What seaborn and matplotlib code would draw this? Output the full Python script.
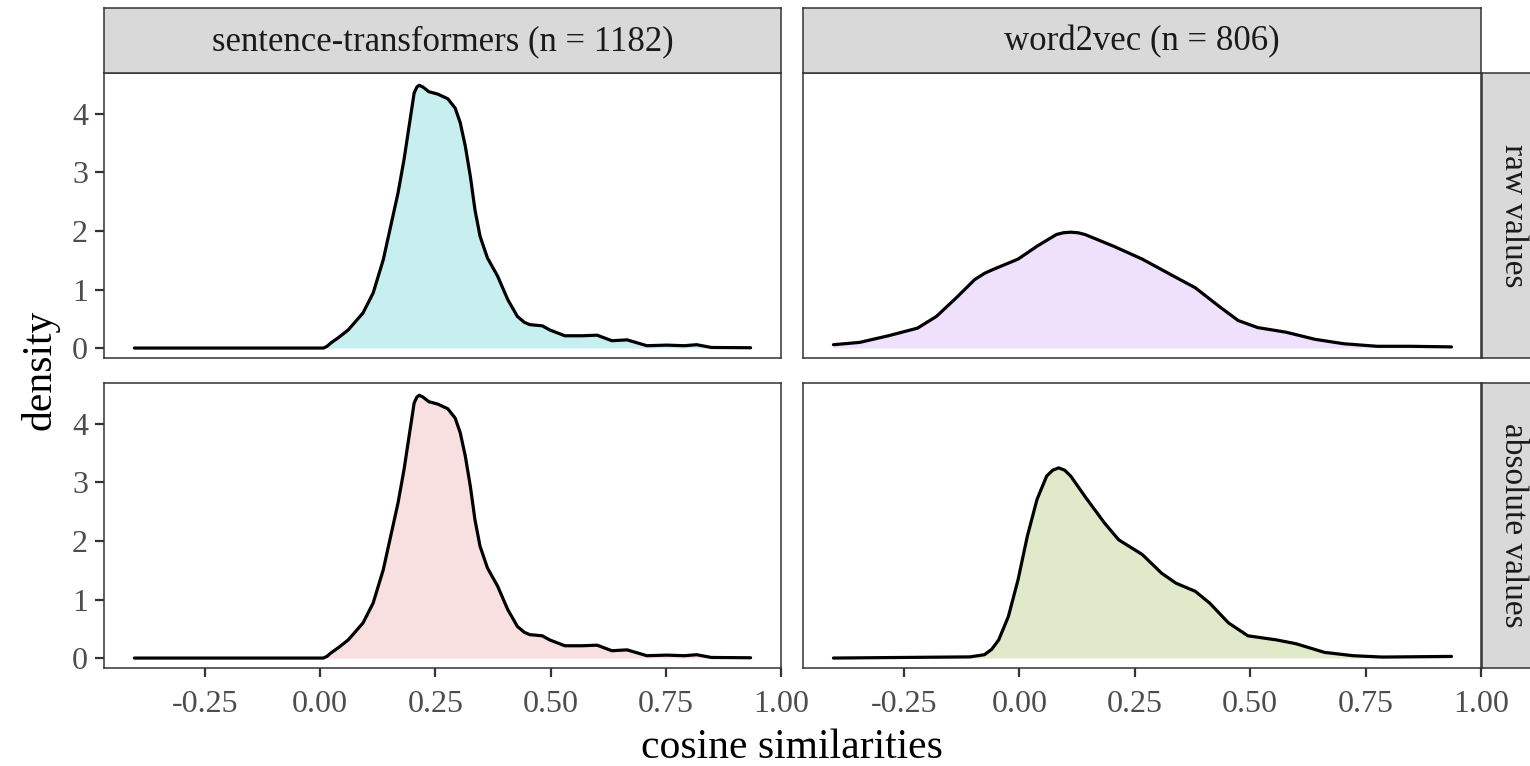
import numpy as np
import pandas as pd
import matplotlib
matplotlib.use('Agg')
import matplotlib.pyplot as plt
import seaborn as sns

# facet labels
models = ['sentence-transformers', 'word2vec']
model_n = [1182, 806]
value_types = ['raw values', 'absolute values']

# density curves (x = cosine similarity)
st_x = [-0.403, 0.007, 0.015, 0.023, 0.040, 0.061, 0.093, 0.115, 0.137, 0.153, 0.169, 0.182,
        0.193, 0.204, 0.210, 0.215, 0.223, 0.236, 0.255, 0.277, 0.293, 0.304, 0.315,
        0.326, 0.336, 0.347, 0.363, 0.385, 0.407, 0.428, 0.443, 0.455, 0.482, 0.498,
        0.531, 0.568, 0.601, 0.633, 0.666, 0.709, 0.752, 0.790, 0.817, 0.849, 0.934]
st_density = [0.0, 0.0, 0.03, 0.085, 0.18, 0.31, 0.60, 0.94, 1.51, 2.08, 2.65, 3.22,
              3.79, 4.36, 4.46, 4.49, 4.46, 4.38, 4.34, 4.26, 4.10, 3.85, 3.45,
              2.93, 2.36, 1.91, 1.54, 1.23, 0.83, 0.54, 0.44, 0.40, 0.38, 0.31,
              0.21, 0.21, 0.22, 0.125, 0.14, 0.04, 0.05, 0.04, 0.057, 0.01, 0.005]

w2v_raw_x = [-0.403, -0.346, -0.284, -0.221, -0.180, -0.138, -0.097, -0.075, -0.055, -0.003,
             0.038, 0.080, 0.095, 0.111, 0.127, 0.142, 0.204, 0.266, 0.329, 0.381, 0.433, 0.474,
             0.516, 0.578, 0.640, 0.702, 0.775, 0.848, 0.936]
w2v_raw_density = [0.057, 0.097, 0.21, 0.34, 0.54, 0.85, 1.17, 1.28, 1.35, 1.52,
                   1.74, 1.94, 1.97, 1.98, 1.97, 1.94, 1.74, 1.52, 1.25, 1.03, 0.71, 0.47,
                   0.35, 0.27, 0.15, 0.074, 0.03, 0.03, 0.02]

w2v_abs_x = [-0.403, -0.107, -0.076, -0.060, -0.045, -0.024, -0.003, 0.017, 0.038, 0.059,
             0.072, 0.085, 0.098, 0.111, 0.142, 0.184, 0.215, 0.266, 0.308, 0.339, 0.381, 0.412,
             0.453, 0.495, 0.557, 0.599, 0.661, 0.723, 0.786, 0.868, 0.936]
w2v_abs_density = [0.0, 0.02, 0.057, 0.15, 0.31, 0.71, 1.34, 2.08, 2.71, 3.11,
                   3.21, 3.25, 3.21, 3.11, 2.76, 2.31, 2.02, 1.77, 1.45, 1.28, 1.14, 0.94,
                   0.60, 0.38, 0.31, 0.245, 0.097, 0.04, 0.017, 0.023, 0.028]

x_ticks = [-0.25, 0.0, 0.25, 0.5, 0.75, 1.0]
x_tick_labels = ['-0.25', '0.00', '0.25', '0.50', '0.75', '1.00']
y_ticks = [0, 1, 2, 3, 4]

# (row, col) -> curve and fill colour
panels = {
    (0, 0): (st_x, st_density, '#C8EFEF'),
    (0, 1): (w2v_raw_x, w2v_raw_density, '#EFE1FC'),
    (1, 0): (st_x, st_density, '#F8E0E0'),   # sentence-transformers sims are all positive
    (1, 1): (w2v_abs_x, w2v_abs_density, '#E0EACB'),
}

sns.set_theme(style='white')
plt.rcParams['font.family'] = ['Liberation Serif', 'DejaVu Serif']

W, H = 1530, 766
fig = plt.figure(figsize=(W / 100, H / 100), dpi=100)

def px_axes(x0, y0, x1, y1):
    return fig.add_axes([x0 / W, 1 - y1 / H, (x1 - x0) / W, (y1 - y0) / H])

col_px = [(104, 781), (803, 1481)]
row_px = [(73, 358), (383, 668)]
border = '#333333'

for (r, c), (xs, ds, fc) in panels.items():
    ax = px_axes(col_px[c][0], row_px[r][0], col_px[c][1], row_px[r][1])
    df = pd.DataFrame({'x': xs, 'density': ds})
    ax.fill_between(df['x'], df['density'], 0, color=fc, linewidth=0)
    sns.lineplot(data=df, x='x', y='density', ax=ax, color='black', linewidth=2.3,
                 sort=False, estimator=None)
    ax.set_xlim(-0.469, 1.0)
    ax.set_ylim(-0.17, 4.70)
    ax.set_xticks(x_ticks)
    ax.set_yticks(y_ticks)
    ax.set_xlabel('')
    ax.set_ylabel('')
    ax.grid(False)
    for s in ax.spines.values():
        s.set_color(border)
        s.set_linewidth(1.1)
    ax.tick_params(axis='both', length=6.5, width=1.6, color=border,
                   labelsize=23, labelcolor='#4D4D4D')
    ax.tick_params(axis='x', bottom=(r == 1), labelbottom=(r == 1), pad=9)
    ax.tick_params(axis='y', left=(c == 0), labelleft=(c == 0), pad=5)
    if r == 1:
        ax.set_xticklabels(x_tick_labels)

# column strips
for c in range(2):
    sax = px_axes(col_px[c][0], 8, col_px[c][1], 73)
    sax.set_facecolor('#D9D9D9')
    sax.set_xticks([])
    sax.set_yticks([])
    for s in sax.spines.values():
        s.set_color(border)
        s.set_linewidth(1.1)
    sax.text(0.5, 0.48, f'{models[c]} (n = {model_n[c]})', transform=sax.transAxes,
             ha='center', va='center', fontsize=25, color='#1A1A1A')

# row strips
for r in range(2):
    sax = px_axes(1482, row_px[r][0], 1547, row_px[r][1])
    sax.set_facecolor('#D9D9D9')
    sax.set_xticks([])
    sax.set_yticks([])
    for s in sax.spines.values():
        s.set_color(border)
        s.set_linewidth(1.1)
    sax.text(0.48, 0.5, value_types[r], transform=sax.transAxes, rotation=-90,
             ha='center', va='center', fontsize=24, color='#1A1A1A')

fig.text(792 / W, 1 - 758 / H, 'cosine similarities', ha='center', va='baseline',
         fontsize=30, color='black')
fig.text(40 / W, 1 - 370 / H, 'density', ha='center', va='center', rotation=90,
         fontsize=30, color='black')

fig.savefig('out.png', dpi=100)
